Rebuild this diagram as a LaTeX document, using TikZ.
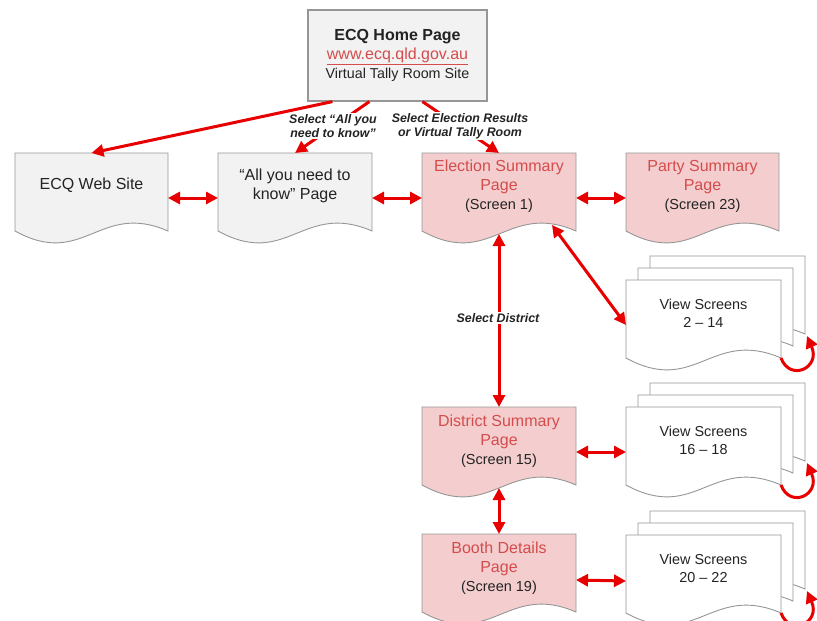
\documentclass[tikz,border=0pt]{standalone}
\usepackage{fontspec}
\setmainfont{Liberation Sans}
\usetikzlibrary{arrows.meta,calc}
\definecolor{arrowred}{RGB}{232,0,0}
\definecolor{pinkfill}{RGB}{244,206,206}
\definecolor{grayfill}{RGB}{242,242,242}
\definecolor{edgegray}{RGB}{150,150,150}
\definecolor{pinktext}{RGB}{212,76,76}
\definecolor{darktext}{RGB}{35,35,35}
% #1 name, #2 left x, #3 top y, #4 width, #5 fill colour
\newcommand\docpage[5]{%
  \node[docbox, minimum width=#4, anchor=north west] (#1) at (#2,#3) {};
  \path[docline, fill=#5] (#1.north west) -- (#1.north east) -- (#1.south east)
    .. controls +(-0.45*#4,-30) and +(0.45*#4,38) .. (#1.south west) -- cycle;
}
\begin{document}
\begin{tikzpicture}[x=1pt,y=-1pt,
  docbox/.style={inner sep=0pt, outer sep=0pt, minimum height=78pt},
  docline/.style={draw=edgegray, line width=0.9pt},
  homebox/.style={draw=edgegray, line width=1.2pt, fill=grayfill, minimum width=179pt, minimum height=91pt, inner sep=0pt, align=center, text=darktext, font=\fontsize{16}{19}\selectfont},
  pagetext/.style={align=center, text=darktext, font=\fontsize{16}{19}\selectfont, inner sep=0pt},
  redtext/.style={pagetext, text=pinktext},
  viewtext/.style={pagetext, font=\fontsize{14.4}{18}\selectfont},
  lbl/.style={fill=white, align=center, text=darktext, inner sep=1pt, font=\fontsize{12.4}{14}\selectfont\bfseries\itshape},
  conn/.style={draw=arrowred, line width=3pt, -{Triangle[length=12pt,width=12pt]}},
  bi/.style={draw=arrowred, line width=3pt, {Triangle[length=12pt,width=12pt]}-{Triangle[length=12pt,width=12pt]}}
]
\useasboundingbox (0,0) rectangle (817,621);
\clip (0,0) rectangle (817,621);

% Home page
\node[homebox] (home) at (397.5,55.5) {{\bfseries ECQ Home Page}\\{\color{pinktext}\underline{www.ecq.qld.gov.au}}\\{\fontsize{14.3}{19}\selectfont Virtual Tally Room Site}};

% top row
\docpage{web}{15}{153}{153}{grayfill}
\node[pagetext] (web-t) at ($(web.north)+(0,32)$) {ECQ Web Site};
\docpage{ayn}{218}{153}{154}{grayfill}
\node[pagetext] (ayn-t) at ($(ayn.north)+(0,33)$) {“All you need to\\know" Page};
\docpage{es}{422}{153}{154}{pinkfill}
\node[redtext] (es-t) at ($(es.north)+(0,33)$) {Election Summary\\Page\\{\fontsize{14.5}{19}\selectfont\color{darktext}(Screen 1)}};
\docpage{ps}{626}{153}{153}{pinkfill}
\node[redtext] (ps-t) at ($(ps.north)+(0,33)$) {Party Summary\\Page\\{\fontsize{14.5}{19}\selectfont\color{darktext}(Screen 23)}};

% view stack 1
\docpage{v1b}{650}{256}{155}{white}
\docpage{v1m}{638}{268}{155}{white}
\docpage{v1f}{626}{280}{155}{white}
\node[viewtext] (v1-t) at ($(v1f.north)+(0,33)$) {View Screens\\2 – 14};

% district
\docpage{ds}{422}{407}{154}{pinkfill}
\node[redtext] (ds-t) at ($(ds.north)+(0,34)$) {District Summary\\Page\\{\fontsize{14.5}{19}\selectfont\color{darktext}(Screen 15)}};
\docpage{v2b}{650}{383}{155}{white}
\docpage{v2m}{638}{395}{155}{white}
\docpage{v2f}{626}{407}{155}{white}
\node[viewtext] (v2-t) at ($(v2f.north)+(0,33)$) {View Screens\\16 – 18};

% booth
\docpage{bd}{422}{534}{154}{pinkfill}
\node[redtext] (bd-t) at ($(bd.north)+(0,34)$) {Booth Details\\Page\\{\fontsize{14.5}{19}\selectfont\color{darktext}(Screen 19)}};
\docpage{v3b}{650}{511}{155}{white}
\docpage{v3m}{638}{523}{155}{white}
\docpage{v3f}{626}{535}{155}{white}
\node[viewtext] (v3-t) at ($(v3f.north)+(0,33)$) {View Screens\\20 – 22};

% connectors from home
\draw[conn] ($(home.south west)+(25,0)$) -- (web.north);
\draw[conn] ($(home.south west)+(62,0)$) -- (ayn.north);
\draw[conn] ($(home.south west)+(115,0)$) -- (es.north);
\node[lbl] (l1) at (333,126) {Select “All you\\need to know”};
\node[lbl] (l2) at (460,126) {Select Election Results\\or Virtual Tally Room};

% horizontal double arrows
\draw[bi] ($(web.east)+(0,6)$) -- ($(ayn.west)+(0,6)$);
\draw[bi] ($(ayn.east)+(0,6)$) -- ($(es.west)+(0,6)$);
\draw[bi] ($(es.east)+(0,6)$) -- ($(ps.west)+(0,6)$);
\draw[bi] ($(ds.east)+(0,6)$) -- ($(v2f.west)+(0,6)$);
\draw[bi] ($(bd.east)+(0,7)$) -- ($(v3f.west)+(0,7)$);

% diagonal and vertical
\draw[bi] ($(es.south east)+(-24,-6)$) -- ($(v1f.west)+(0,6)$);
\draw[bi] ($(es.south)+(0,3)$) -- (ds.north);
\node[lbl] (l3) at (498,318) {Select District};
\draw[bi] ($(ds.south)+(0,3)$) -- (bd.north);

% self loops
\draw[conn] (v1f.south east) .. controls +(9,24) and +(14,32) .. ($(v1b.south east)+(2,2)$);
\draw[conn] (v2f.south east) .. controls +(9,24) and +(14,32) .. ($(v2b.south east)+(2,2)$);
\draw[conn] (v3f.south east) .. controls +(9,24) and +(14,32) .. ($(v3b.south east)+(2,2)$);
\end{tikzpicture}
\end{document}
